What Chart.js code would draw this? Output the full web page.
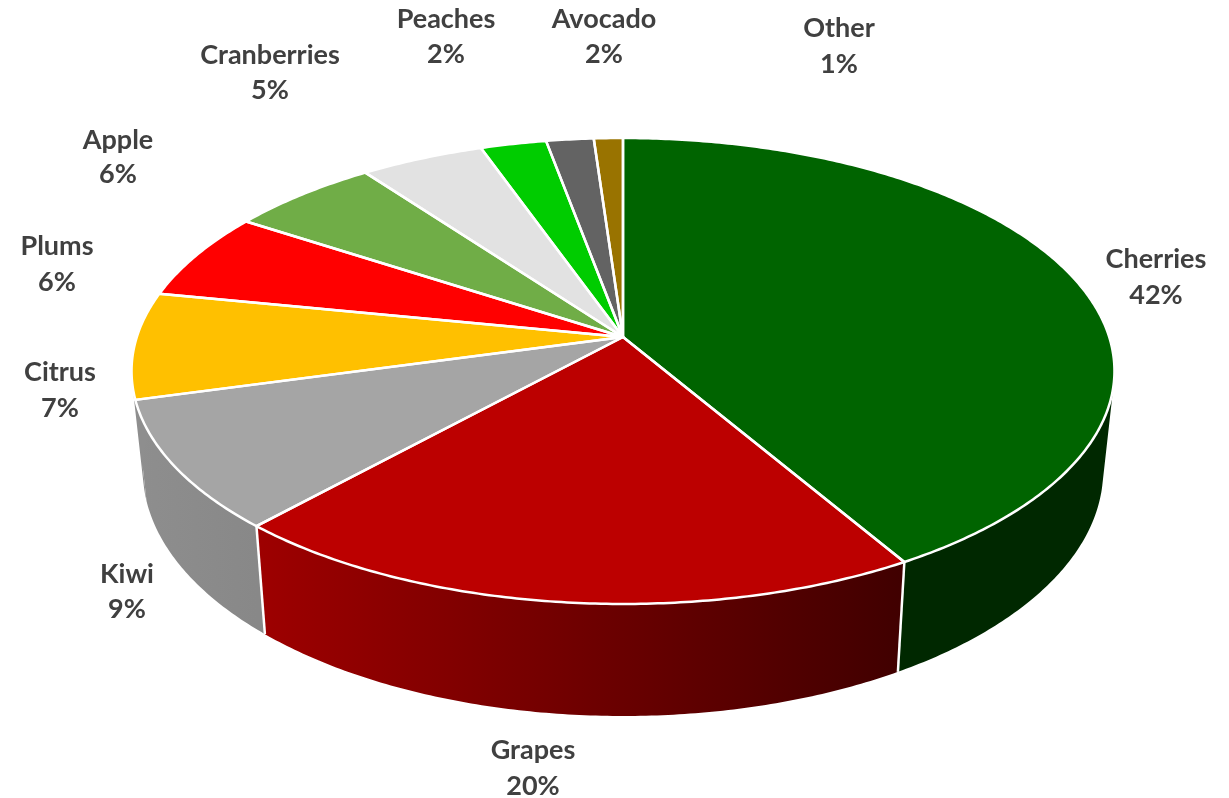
<!DOCTYPE html>
<html>
<head>
<meta charset="utf-8">
<style>html,body{margin:0;padding:0;background:#fff}canvas{display:block}</style>
<script src="https://cdn.jsdelivr.net/npm/chart.js@4"></script>
</head>
<body>
<canvas id="c" width="1229" height="798"></canvas>
<script>
const categories = ['Cherries','Grapes','Kiwi','Citrus','Plums','Apple','Cranberries','Peaches','Avocado','Other'];
const shares = [41.6,20.2,9.0,7.4,6.1,5.7,4.7,2.5,1.8,1.1];
const topColors = ['#006400','#BC0000','#A5A5A5','#FFC000','#FF0000','#70AD47','#E2E2E2','#00CC00','#636363','#997300'];
const wallStart = ['#002800','#9E0000','#8E8E8E','#8E8E8E','#B00000','#4F7A32','#A0A0A0','#008C00','#454545','#6B5000'];
const wallEnd   = ['#002800','#400000','#888888','#8E8E8E','#B00000','#4F7A32','#A0A0A0','#008C00','#454545','#6B5000'];
// label text centres: [x, y of name line, y of percent line]
const labelPlacement = [[1156,259,295],[533,750,786],[127,574,609],[60,372,408],[57,246,282],[118,140,174],[270,55,90],[446,19,54],[604,19,54],[839,28,64]];

// Perspective projection of the pie's unit disc on to the page
const topPlane = {x0:623, y0:337, a:486.2, b:228};
const basePlane = {x0:623, y0:435, a:475, b:240};
const persp = -0.1459;
const project = (pl, ang, r=1) => {
  const u = r*Math.cos(ang), v = r*Math.sin(ang), d = 1 + persp*v;
  return [pl.x0 + pl.a*u/d, pl.y0 + pl.b*v/d];
};
const arcPoints = (pl, s, e) => {
  const n = Math.max(2, Math.ceil((e-s)/0.01)), pts = [];
  for (let i=0;i<=n;i++) pts.push(project(pl, s+(e-s)*i/n));
  return pts;
};

const tilted = {
  id:'tilted',
  beforeDatasetsDraw(chart){
    const ctx = chart.ctx, arcs = chart.getDatasetMeta(0).data;
    ctx.save();
    ctx.lineJoin = 'round';
    // walls: one path of same-handed strips, so the outline follows the silhouette without seams
    arcs.forEach((arc,i)=>{
      const up = arcPoints(topPlane, arc.startAngle, arc.endAngle);
      const low = arcPoints(basePlane, arc.startAngle, arc.endAngle);
      const xs = up.map(p=>p[0]);
      const g = ctx.createLinearGradient(Math.min(...xs),0,Math.max(...xs),0);
      g.addColorStop(0, wallStart[i]); g.addColorStop(1, wallEnd[i]);
      ctx.fillStyle = g;
      ctx.beginPath();
      for (let k=0;k<up.length-1;k++){
        let q = [up[k],up[k+1],low[k+1],low[k]];
        let area = 0;
        q.forEach((p,j)=>{ const r = q[(j+1)%4]; area += p[0]*r[1]-r[0]*p[1]; });
        if (area < 0) q = q.reverse();
        q.forEach((p,j)=> j ? ctx.lineTo(p[0],p[1]) : ctx.moveTo(p[0],p[1]));
        ctx.closePath();
      }
      ctx.fill('nonzero');
    });
    // white seams between front walls
    ctx.strokeStyle = '#fff'; ctx.lineWidth = 2.5;
    arcs.forEach(arc=>{
      if (Math.sin(arc.endAngle) > 0.3) {
        const a = project(topPlane, arc.endAngle), b = project(basePlane, arc.endAngle);
        ctx.beginPath(); ctx.moveTo(a[0],a[1]); ctx.lineTo(b[0],b[1]); ctx.stroke();
      }
    });
    // top faces
    arcs.forEach((arc,i)=>{
      ctx.beginPath();
      ctx.moveTo(topPlane.x0, topPlane.y0);
      arcPoints(topPlane, arc.startAngle, arc.endAngle).forEach(p=>ctx.lineTo(p[0],p[1]));
      ctx.closePath();
      ctx.fillStyle = arc.options.backgroundColor;
      ctx.fill();
    });
    arcs.forEach(arc=>{
      ctx.beginPath();
      ctx.moveTo(topPlane.x0, topPlane.y0);
      arcPoints(topPlane, arc.startAngle, arc.endAngle).forEach(p=>ctx.lineTo(p[0],p[1]));
      ctx.closePath();
      ctx.strokeStyle = arc.options.borderColor;
      ctx.lineWidth = arc.options.borderWidth;
      ctx.stroke();
    });
    // labels
    const vals = chart.data.datasets[0].data, sum = vals.reduce((a,b)=>a+b,0);
    ctx.font = 'bold 27px Lato';
    ctx.fillStyle = '#404040';
    ctx.textAlign = 'center';
    ctx.textBaseline = 'middle';
    chart.data.labels.forEach((name,i)=>{
      const [x,y1,y2] = labelPlacement[i];
      ctx.fillText(name, x, y1);
      ctx.fillText(Math.round(vals[i]/sum*100)+'%', x, y2);
    });
    ctx.restore();
    return false;
  }
};

new Chart(document.getElementById('c'),{
  type:'pie',
  data:{labels:categories,datasets:[{data:shares,backgroundColor:topColors,borderColor:'#FFFFFF',borderWidth:2.5}]},
  options:{responsive:false,animation:false,plugins:{legend:{display:false},tooltip:{enabled:false},title:{display:false}}},
  plugins:[tilted]
});
</script>
</body>
</html>
